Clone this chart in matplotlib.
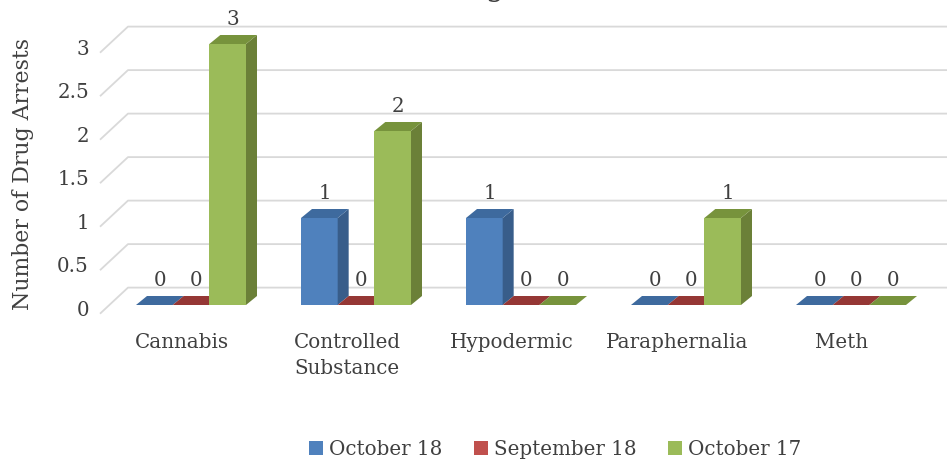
import matplotlib
matplotlib.use("Agg")
import matplotlib.pyplot as plt
from matplotlib.patches import Polygon, Patch

categories = ["Cannabis", "Controlled\nSubstance", "Hypodermic", "Paraphernalia", "Meth"]
series_names = ["October 18", "September 18", "October 17"]
oct18 = [0, 1, 1, 0, 0]
sep18 = [0, 0, 0, 0, 0]
oct17 = [3, 2, 0, 1, 0]
yticks = [0, 0.5, 1, 1.5, 2, 2.5, 3]
ytick_labels = ["0", "0.5", "1", "1.5", "2", "2.5", "3"]
title = "Drugs"
ylabel = "Number of Drug Arrests"

series = [oct18, sep18, oct17]
front_c = ["#4F81BD", "#C0504D", "#9BBB59"]
side_c = ["#385D8A", "#8C3836", "#6B8038"]
top_c = ["#3E6A9E", "#953735", "#77933C"]
FONT = "DejaVu Serif"
TXT = "#404040"
FS = 14.3

W, H = 947, 465
fig = plt.figure(figsize=(W / 100, H / 100), dpi=100)
ax = fig.add_axes([0, 0, 1, 1])
ax.axis("off")

PXX, PXY = 165.0, 87.0   # pixels per data unit
X0PX, Y0PX = 136.0, 305.0
def xd(px): return (px - X0PX) / PXX
def yd(py): return (Y0PX - py) / PXY
ax.set_xlim(xd(0), xd(W))
ax.set_ylim(yd(H), yd(0))

w = 110.0 / 3 / PXX
dx, dy = 11 / PXX, 9 / PXY

# gridlines (walls)
for t in yticks:
    ax.plot([xd(100), xd(128), xd(W)], [t - 0.1, t + 0.2, t + 0.2],
            color="#D9D9D9", lw=1.3, solid_capstyle="butt", zorder=1)
for t, lab in zip(yticks, ytick_labels):
    ax.text(xd(89), t - 0.06, lab, ha="right", va="center", fontsize=FS,
            family=FONT, color=TXT)

# bars
for i in range(len(categories)):
    for s, vals in enumerate(series):
        v = vals[i]
        x0 = i + s * w
        if v > 0:
            ax.add_patch(Polygon([(x0, 0), (x0 + w, 0), (x0 + w, v), (x0, v)],
                                 closed=True, fc=front_c[s], ec="none", zorder=2))
            ax.add_patch(Polygon([(x0 + w, 0), (x0 + w + dx, dy), (x0 + w + dx, v + dy), (x0 + w, v)],
                                 closed=True, fc=side_c[s], ec="none", zorder=2))
        ax.add_patch(Polygon([(x0, v), (x0 + w, v), (x0 + w + dx, v + dy), (x0 + dx, v + dy)],
                             closed=True, fc=top_c[s], ec="none", zorder=2))
        ax.text(x0 + w / 2 + dx / 2, v + 0.28, str(v), ha="center", va="center",
                fontsize=FS, family=FONT, color=TXT, zorder=3)

for i, c in enumerate(categories):
    ax.text(i + 1.5 * w - 9 / PXX, yd(333), c, ha="center", va="top", fontsize=FS,
            family=FONT, color=TXT, linespacing=1.45)

ax.text(xd(23), yd(174), ylabel, rotation=90, ha="center", va="center",
        fontsize=15.8, family=FONT, color=TXT)
ax.text(xd(475), yd(-4), title, ha="center", va="baseline", fontsize=21,
        family=FONT, color=TXT)

handles = [Patch(fc=front_c[s], ec="none") for s in range(3)]
fig.legend(handles, series_names, loc="center", bbox_to_anchor=(555 / W, 1 - 449 / H),
           ncol=3, frameon=False, prop={"family": FONT, "size": FS},
           handlelength=0.7, handleheight=0.7, handletextpad=0.3, columnspacing=1.6,
           labelcolor=TXT)

fig.savefig("out.png", dpi=100)
